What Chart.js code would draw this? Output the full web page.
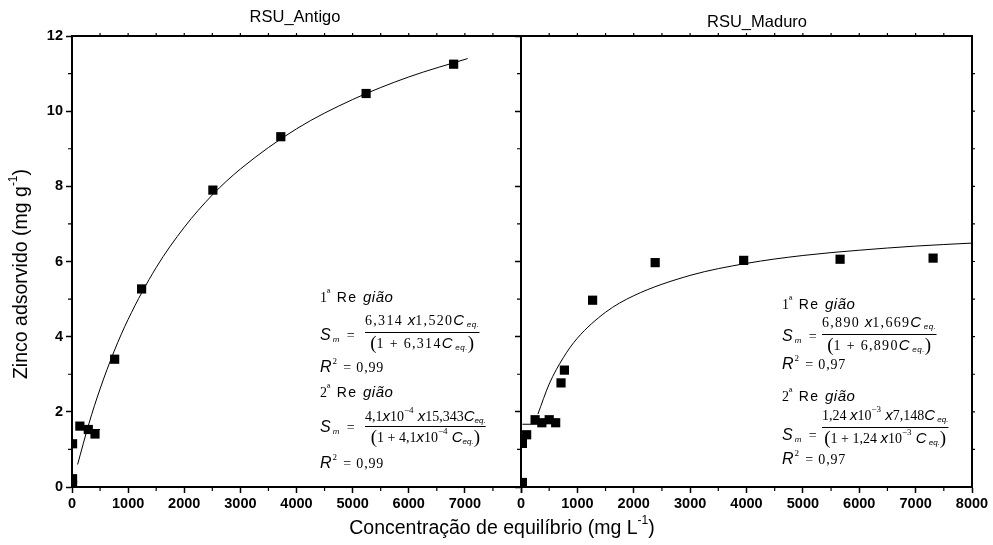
<!DOCTYPE html>
<html>
<head>
<meta charset="utf-8">
<script src="https://cdn.jsdelivr.net/npm/chart.js@4"></script>
<style>
  body { margin: 0; background: #fff; }
  #wrap { position: relative; width: 993px; height: 545px; }
  canvas { position: absolute; top: 0; }
  #left { left: 0; }
  #right { left: 500px; }
</style>
</head>
<body>
<div id="wrap">
  <canvas id="left" width="993" height="545"></canvas>
  <canvas id="right" width="493" height="545"></canvas>
</div>
<script>
// RSU_Antigo - measured points and fitted curves
const antigoX = [10, 10, 10, 140, 290, 410, 760, 1240, 2510, 3720, 5240, 6800];
const antigoY = [1.15, 0.22, 0.05, 1.62, 1.53, 1.41, 3.40, 5.27, 7.90, 9.32, 10.47, 11.25];
const antigoFitX = [100, 300, 500, 750, 1000, 1500, 2000, 2500, 3000, 4000, 5000, 6000, 7050];
const antigoFitY = [0.60, 1.68, 2.61, 3.61, 4.46, 5.84, 6.91, 7.77, 8.46, 9.53, 10.31, 10.91, 11.40];
const antigoFit1X = [100, 500];
const antigoFit1Y = [1.53, 1.53];

// RSU_Maduro
const maduroX = [25, 25, 100, 250, 370, 500, 615, 710, 770, 1270, 2380, 3950, 5660, 7310];
const maduroY = [0.12, 1.16, 1.39, 1.79, 1.71, 1.79, 1.71, 2.77, 3.11, 4.97, 5.97, 6.03, 6.06, 6.09];
const maduroFitX = [300, 500, 750, 1000, 1500, 2000, 3000, 4000, 5000, 6000, 7000, 8000];
const maduroFitY = [1.94, 2.74, 3.44, 3.96, 4.65, 5.09, 5.63, 5.95, 6.16, 6.30, 6.41, 6.49];
const maduroFit1X = [25, 300];
const maduroFit1Y = [1.67, 1.67];

const xTicks = [0, 1000, 2000, 3000, 4000, 5000, 6000, 7000, 8000];
const yTicks = [0, 2, 4, 6, 8, 10, 12];

const pts = (xs, ys) => xs.map((v, i) => ({ x: v, y: ys[i] }));

// fonts for the equations
const SER = '14px "Liberation Serif"';
const SERS = '9px "Liberation Serif"';
const ITA = 'italic 15px "Liberation Sans"';
const ITB = 'italic 16px "Liberation Sans"';
const SUBF = 'italic 8px "Liberation Sans"';
const SAN = '14px "Liberation Sans"';
const SANS = '9px "Liberation Sans"';
const PAR = '19px "Liberation Serif"';

// parts: [text, font, dy, letterSpacing]
function widthOf(ctx, parts) {
  let w = 0;
  for (const p of parts) {
    ctx.font = p[1];
    w += ctx.measureText(p[0]).width + (p[3] || 0) * p[0].length;
  }
  return w;
}
function put(ctx, x, y, parts) {
  for (const p of parts) {
    ctx.font = p[1];
    const sp = p[3] || 0;
    for (const ch of p[0]) {
      ctx.fillText(ch, x, y + (p[2] || 0));
      x += ctx.measureText(ch).width + sp;
    }
  }
  return x;
}
function frac(ctx, x, yn, yb, yd, num, den) {
  const wn = widthOf(ctx, num), wd = widthOf(ctx, den), w = Math.max(wn, wd);
  put(ctx, x + (w - wn) / 2, yn, num);
  put(ctx, x + (w - wd) / 2, yd, den);
  ctx.fillRect(x, yb, w, 1);
}
const region = n => [[n, SER], ['ª', SANS, -4, 1], [' Re ', SAN, 0, 1.5], ['gião', ITA, 0, 0.5]];
const sm = [['S', ITB, 0, 2], ['m', SUBF, 4, 3], [' = ', SER, 0, 1]];
const r2 = v => [['R', ITB, 0, 1], ['2', SERS, -6, 2], [' = ' + v, SER, 0, 0.8]];

function block(ctx, b) {
  ctx.save();
  ctx.fillStyle = '#000';
  ctx.textBaseline = 'middle';
  ctx.textAlign = 'left';
  put(ctx, b.x, b.r1, region('1'));
  put(ctx, b.x, b.s1, sm);
  frac(ctx, b.fx, b.n1, b.b1, b.d1, b.num1, b.den1);
  put(ctx, b.x, b.q1, r2(b.r2a));
  put(ctx, b.x, b.r2, region('2'));
  put(ctx, b.x, b.s2, sm);
  frac(ctx, b.fx, b.n2, b.b2, b.d2, b.num2, b.den2);
  put(ctx, b.x, b.q2, r2(b.r2b));
  ctx.restore();
}

function frame(chart) {
  const { ctx, chartArea: a, scales: { x, y } } = chart;
  ctx.save();
  ctx.strokeStyle = '#000';
  ctx.lineWidth = 2;
  ctx.beginPath();
  ctx.moveTo(a.left, a.top); ctx.lineTo(a.right, a.top); ctx.lineTo(a.right, a.bottom);
  ctx.stroke();
  ctx.lineWidth = 1.2;
  ctx.beginPath();
  for (let v = 500; v < 8000; v += 1000) {
    const p = x.getPixelForValue(v);
    ctx.moveTo(p, a.bottom); ctx.lineTo(p, a.bottom + 4);
  }
  for (let v = 500; v < 8000; v += 500) {
    const p = x.getPixelForValue(v);
    ctx.moveTo(p, a.top); ctx.lineTo(p, a.top - 3);
  }
  for (let v = 1; v < 12; v += 2) {
    const p = y.getPixelForValue(v);
    ctx.moveTo(a.left, p); ctx.lineTo(a.left - 4, p);
  }
  ctx.stroke();
  ctx.restore();
}

function title(ctx, text, cx, cy) {
  ctx.save();
  ctx.fillStyle = '#000';
  ctx.font = '16.5px "Liberation Sans"';
  ctx.textAlign = 'center';
  ctx.textBaseline = 'middle';
  ctx.fillText(text, cx, cy);
  ctx.restore();
}

function supTitle(ctx, cx, cy, rot, parts) {
  ctx.save();
  ctx.fillStyle = '#000';
  ctx.textBaseline = 'middle';
  ctx.textAlign = 'left';
  ctx.translate(cx, cy);
  ctx.rotate(rot);
  put(ctx, -widthOf(ctx, parts) / 2, 0, parts);
  ctx.restore();
}

const AX = '19.5px "Liberation Sans"';
const AXS = '12px "Liberation Sans"';

const leftDraw = {
  id: 'leftDraw',
  afterDraw(chart) {
    const ctx = chart.ctx;
    frame(chart);
    title(ctx, 'RSU_Antigo', 295, 17);
    supTitle(ctx, 22, 274, -Math.PI / 2,
      [['Zinco adsorvido (mg g', AX], ['-1', AXS, -8], [')', AX]]);
    supTitle(ctx, 502, 529, 0,
      [['Concentração de equilíbrio (mg L', AX], ['-1', AXS, -8], [')', AX]]);
    block(ctx, {
      x: 320, fx: 365,
      r1: 298, s1: 336, n1: 321, b1: 332, d1: 344, q1: 368,
      r2: 393, s2: 428, n2: 417, b2: 426, d2: 438, q2: 464,
      num1: [['6,314 ', SER, 0, 1.3], ['x', ITA], ['1,520', SER, 0, 1.3], ['C', ITA], [' eq.', SUBF, 4, 0.5]],
      den1: [['(', PAR], ['1 + 6,314', SER, 0, 1.3], ['C', ITA], [' eq.', SUBF, 4, 0.5], [')', PAR]],
      num2: [['4,1', SER], ['x', ITA], ['10', SER], ['−4', SERS, -6], [' x', ITA], ['15,343', SER], ['C', ITA], ['eq.', SUBF, 4]],
      den2: [['(', PAR], ['1 + 4,1', SER], ['x', ITA], ['10', SER], ['−4', SERS, -6], [' C', ITA], ['eq.', SUBF, 4], [')', PAR]],
      r2a: '0,99', r2b: '0,99'
    });
  }
};

const rightDraw = {
  id: 'rightDraw',
  afterDraw(chart) {
    const ctx = chart.ctx;
    const { chartArea: a, scales: { y } } = chart;
    frame(chart);
    ctx.save();
    ctx.strokeStyle = '#000';
    ctx.lineWidth = 1.2;
    ctx.beginPath();
    for (let v = 1; v < 12; v++) {
      const p = y.getPixelForValue(v);
      ctx.moveTo(a.right, p); ctx.lineTo(a.right + 3, p);
    }
    ctx.stroke();
    ctx.restore();
    // chart is offset by 500px in the page
    ctx.save();
    ctx.translate(-500, 0);
    title(ctx, 'RSU_Maduro', 757, 22);
    block(ctx, {
      x: 782, fx: 822,
      r1: 305, s1: 337, n1: 323, b1: 334, d1: 346, q1: 365,
      r2: 397, s2: 436, n2: 416, b2: 427, d2: 439, q2: 460,
      num1: [['6,890 ', SER, 0, 1.3], ['x', ITA], ['1,669', SER, 0, 1.3], ['C', ITA], [' eq.', SUBF, 4, 0.5]],
      den1: [['(', PAR], ['1 + 6,890', SER, 0, 1.3], ['C', ITA], [' eq.', SUBF, 4, 0.5], [')', PAR]],
      num2: [['1,24 ', SER], ['x', ITA], ['10', SER], ['−3', SERS, -6], [' x', ITA], ['7,148', SER], ['C', ITA], [' eq.', SUBF, 4]],
      den2: [['(', PAR], ['1 + 1,24 ', SER], ['x', ITA], ['10', SER], ['−3', SERS, -6], [' C', ITA], [' eq.', SUBF, 4], [')', PAR]],
      r2a: '0,97', r2b: '0,97'
    });
    ctx.restore();
  }
};

const tickFont = { family: 'Liberation Sans', size: 14.5, weight: 'bold' };

function scales(yWidth, showY, hide8000) {
  return {
    x: {
      type: 'linear', min: 0, max: 8000,
      afterFit: s => { s.height = 58; },
      afterBuildTicks: s => { s.ticks = xTicks.map(v => ({ value: v })); },
      ticks: {
        color: '#000', font: tickFont, padding: 2, maxRotation: 0, autoSkip: false,
        callback: v => (hide8000 && v === 8000) ? '' : String(v)
      },
      grid: { drawOnChartArea: false, tickLength: 6, tickColor: '#000', tickWidth: 1.5 },
      border: { color: '#000', width: 2 }
    },
    y: {
      type: 'linear', min: 0, max: 12,
      afterFit: s => { s.width = yWidth; },
      afterBuildTicks: s => { s.ticks = yTicks.map(v => ({ value: v })); },
      ticks: {
        color: '#000', font: tickFont, padding: 3,
        callback: v => showY ? String(v) : ''
      },
      grid: { drawOnChartArea: false, tickLength: 6, tickColor: '#000', tickWidth: 1.5 },
      border: { color: '#000', width: 2 }
    }
  };
}

function datasets(px, py, fx, fy, f1x, f1y) {
  return [
    { data: pts(px, py), pointStyle: 'rect', pointRadius: 6.5, backgroundColor: '#000',
      borderWidth: 0, showLine: false, clip: 0 },
    { data: pts(fx, fy), pointRadius: 0, borderColor: '#000', borderWidth: 1,
      showLine: true, cubicInterpolationMode: 'monotone', clip: 0 },
    { data: pts(f1x, f1y), pointRadius: 0, borderColor: '#000', borderWidth: 1,
      showLine: true, clip: 0 }
  ];
}

const common = {
  responsive: false,
  animation: false,
  events: [],
  plugins: { legend: { display: false }, tooltip: { enabled: false } }
};

new Chart(document.getElementById('left').getContext('2d'), {
  type: 'scatter',
  data: { datasets: datasets(antigoX, antigoY, antigoFitX, antigoFitY, antigoFit1X, antigoFit1Y) },
  options: {
    ...common,
    layout: { padding: { left: 0, top: 36, right: 472, bottom: 0 } },
    scales: scales(72, true, true)
  },
  plugins: [leftDraw]
});

new Chart(document.getElementById('right').getContext('2d'), {
  type: 'scatter',
  data: { datasets: datasets(maduroX, maduroY, maduroFitX, maduroFitY, maduroFit1X, maduroFit1Y) },
  options: {
    ...common,
    layout: { padding: { left: 0, top: 36, right: 21, bottom: 0 } },
    scales: scales(21, false, false)
  },
  plugins: [rightDraw]
});
</script>
</body>
</html>
